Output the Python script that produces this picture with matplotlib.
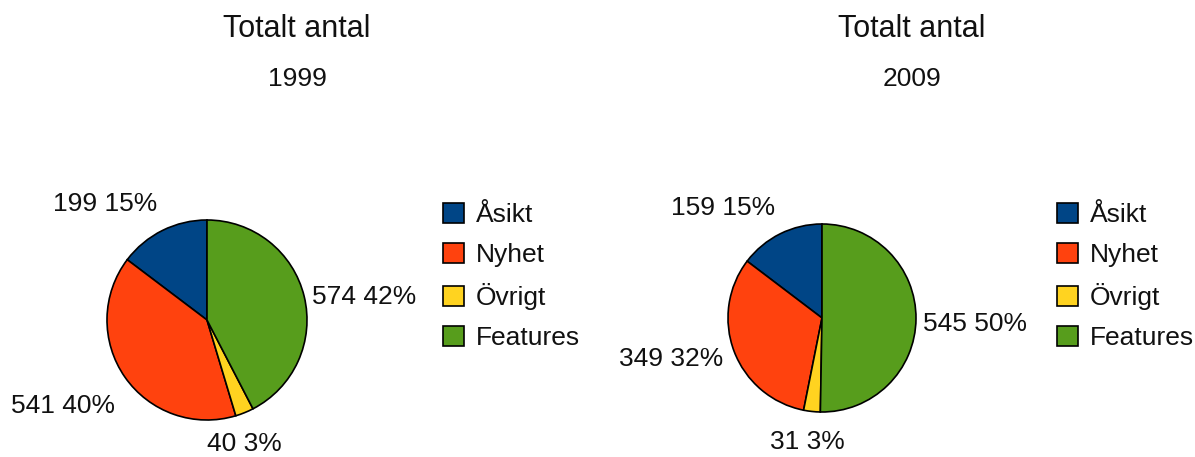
#!/usr/bin/env python3
"""Pie charts: total number of articles by type, 1999 vs 2009."""

import numpy as np
import matplotlib
matplotlib.use('Agg')
import matplotlib.pyplot as plt

categories = ['Åsikt', 'Nyhet', 'Övrigt', 'Features']
counts_1999 = [199, 541, 40, 574]
counts_2009 = [159, 349, 31, 545]
years = ['1999', '2009']

colors = ['#004586', '#ff420e', '#ffd320', '#579d1c']

W, H = 1195, 457
DPI = 100
plt.rcParams['font.family'] = ['Liberation Sans', 'DejaVu Sans']
FS = 19

fig = plt.figure(figsize=(W / DPI, H / DPI), dpi=DPI)
fig.patch.set_facecolor('white')


def px_axes(cx, cy, r):
    """Axes whose [-1, 1] box covers a circle of radius r centred at pixel (cx, cy)."""
    return fig.add_axes([(cx - r) / W, (H - cy - r) / H, 2 * r / W, 2 * r / H])


# label placement per wedge: (ha, va, nudge x px, nudge y px; y down)
place_1999 = [('right', 'bottom', 0, -4), ('right', 'top', 0, 10),
              ('center', 'top', -5, 8), ('left', 'center', -4, 4)]
place_2009 = [('right', 'bottom', 0, -4), ('right', 'center', 0, 4),
              ('center', 'top', -3, 7), ('left', 'center', -4, 5)]

charts = [
    dict(counts=counts_1999, year=years[0], center=(207, 320), r=100,
         title_x=297, legend_x=443, place=place_1999),
    dict(counts=counts_2009, year=years[1], center=(822, 318), r=94,
         title_x=912, legend_x=1057, place=place_2009),
]

for ch in charts:
    ax = px_axes(*ch['center'], ch['r'])
    counts = np.array(ch['counts'])
    wedges, _ = ax.pie(counts, colors=colors, startangle=90, counterclock=True,
                       radius=1.0, wedgeprops=dict(edgecolor='black', linewidth=1.2))
    ax.set_xlim(-1, 1)
    ax.set_ylim(-1, 1)
    ax.set_aspect('equal')
    ax.axis('off')

    total = counts.sum()
    for w, n, (ha, va, nx, ny) in zip(wedges, counts, ch['place']):
        theta = np.deg2rad((w.theta1 + w.theta2) / 2)
        d = 1.12
        ax.annotate(f'{n} {round(100 * n / total):d}%',
                    xy=(d * np.cos(theta), d * np.sin(theta)),
                    xytext=(nx * 72 / DPI, -ny * 72 / DPI), textcoords='offset points',
                    ha=ha, va=va, fontsize=FS, color='#111111', annotation_clip=False)

    fig.text(ch['title_x'] / W, 1 - 29 / H, 'Totalt antal', ha='center', va='center',
             fontsize=22, color='#111111')
    fig.text(ch['title_x'] / W, 1 - 79 / H, ch['year'], ha='center', va='center',
             fontsize=FS, color='#111111')

    leg = ax.legend(wedges, categories, loc='upper left',
                    bbox_to_anchor=(ch['legend_x'] / W, 1 - 203 / H),
                    bbox_transform=fig.transFigure, frameon=False,
                    fontsize=FS, handlelength=0.8, handleheight=0.8,
                    handletextpad=0.45, labelspacing=0.6, borderpad=0,
                    borderaxespad=0)
    for t in leg.get_texts():
        t.set_color('#111111')

fig.savefig('out.png', dpi=DPI, facecolor='white')
